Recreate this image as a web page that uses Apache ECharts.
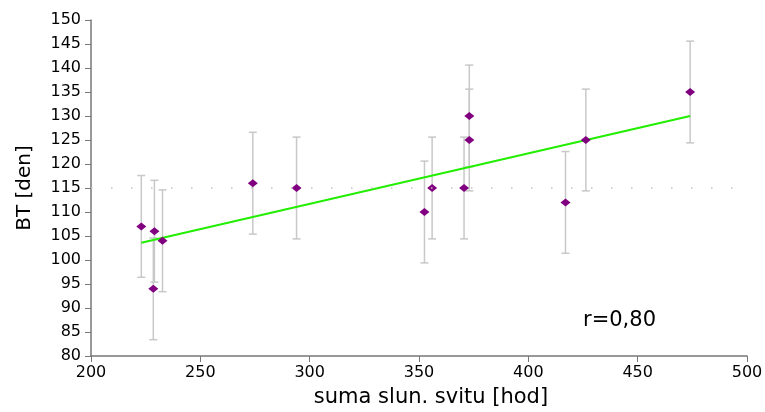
<!DOCTYPE html>
<html>
<head>
<meta charset="utf-8">
<script src="https://cdn.jsdelivr.net/npm/echarts@6/dist/echarts.min.js"></script>
<style>
  html, body { margin: 0; padding: 0; background: #fff; }
  #chart { width: 765px; height: 412px; }
</style>
</head>
<body>
<div id="chart"></div>
<script>
// Sunshine hours vs. BT (days) per year
const sunHours = [223, 228.5, 229, 232.7, 274, 294, 352.5, 356, 370.6, 373, 373, 417, 426.3, 474];
const btDays   = [107, 94, 106, 104, 116, 115, 110, 115, 115, 125, 130, 112, 125, 135];
const btError  = [10.6, 10.6, 10.6, 10.6, 10.6, 10.6, 10.6, 10.6, 10.6, 10.6, 10.6, 10.6, 10.6, 10.6];
// Fitted trend line end points [hours, days]
const trendLine = [[223, 103.6], [474, 130]];
const meanBT = 115;
const corrLabel = 'r=0,80';

const FONT = 'DejaVu Sans';
const points = sunHours.map((x, i) => [x, btDays[i]]);
const bars = sunHours.map((x, i) => [x, btDays[i] - btError[i], btDays[i] + btError[i]]);

const chart = echarts.init(document.getElementById('chart'));
chart.setOption({
  animation: false,
  grid: { left: 91, right: 18, top: 20, bottom: 56, outerBoundsMode: 'none' },
  xAxis: {
    type: 'value', min: 200, max: 500, interval: 50,
    name: 'suma slun. svitu [hod]', nameLocation: 'middle', nameGap: 31,
    nameTextStyle: { fontFamily: FONT, fontSize: 21, color: '#000', padding: [0, 0, 0, 24] },
    axisLine: { show: true, lineStyle: { color: '#777', width: 1.5 } },
    axisTick: { show: true, length: 6, lineStyle: { color: '#777' } },
    axisLabel: { fontFamily: FONT, fontSize: 16, color: '#000', margin: 9 },
    splitLine: { show: false }
  },
  yAxis: {
    type: 'value', min: 80, max: 150, interval: 5,
    name: 'BT [den]', nameLocation: 'middle', nameGap: 56, nameRotate: 90,
    nameTextStyle: { fontFamily: FONT, fontSize: 20, color: '#000' },
    axisLine: { show: true, lineStyle: { color: '#777', width: 1.5 } },
    axisTick: { show: true, length: 6, lineStyle: { color: '#777' } },
    axisLabel: { fontFamily: FONT, fontSize: 16, color: '#000', margin: 10 },
    splitLine: { show: false }
  },
  series: [
    {
      type: 'custom',
      name: 'error',
      data: bars,
      z: 1,
      renderItem: function (params, api) {
        const x = api.value(0);
        const lo = api.coord([x, api.value(1)]);
        const hi = api.coord([x, api.value(2)]);
        const cap = 4;
        const style = { stroke: '#c8c8c8', lineWidth: 1.5 };
        return {
          type: 'group',
          children: [
            { type: 'line', shape: { x1: hi[0], y1: hi[1], x2: lo[0], y2: lo[1] }, style: style },
            { type: 'line', shape: { x1: hi[0] - cap, y1: hi[1], x2: hi[0] + cap, y2: hi[1] }, style: style },
            { type: 'line', shape: { x1: lo[0] - cap, y1: lo[1], x2: lo[0] + cap, y2: lo[1] }, style: style }
          ]
        };
      }
    },
    {
      type: 'line',
      name: 'trend',
      data: trendLine,
      symbol: 'none',
      z: 3,
      lineStyle: { color: '#22ee00', width: 2 },
      markLine: {
        silent: true,
        symbol: 'none',
        label: { show: false },
        lineStyle: { color: '#c4c4c4', type: [1.5, 18.5], width: 1.5 },
        data: [{ yAxis: meanBT }]
      }
    },
    {
      type: 'scatter',
      name: 'BT',
      data: points,
      symbol: 'diamond',
      symbolSize: [10, 8],
      z: 4,
      itemStyle: { color: '#800080', opacity: 1 }
    }
  ],
  graphic: [
    {
      type: 'text',
      left: 583, top: 310,
      style: { text: corrLabel, fontFamily: FONT, fontSize: 21, fill: '#000' }
    }
  ]
});
</script>
</body>
</html>
